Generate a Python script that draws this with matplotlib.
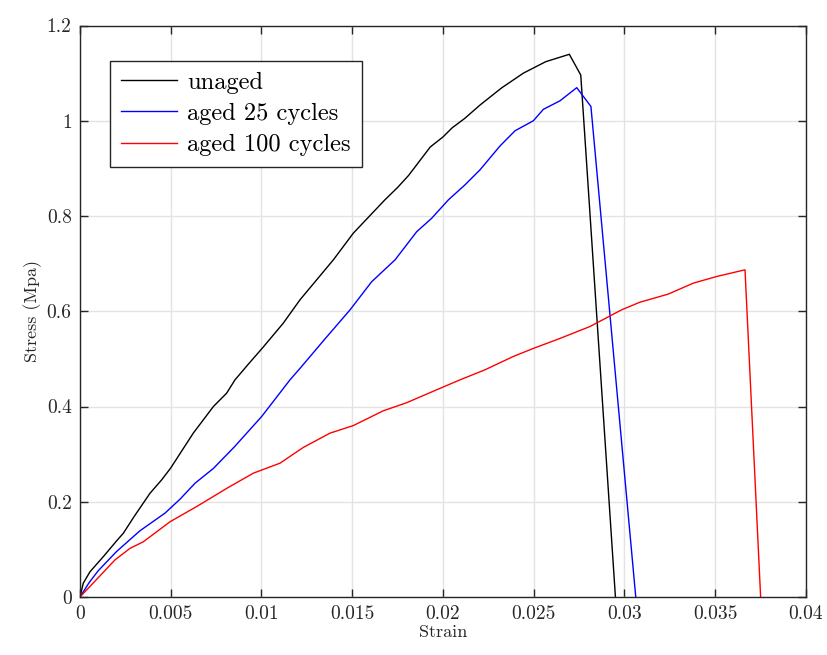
import matplotlib
matplotlib.use("Agg")
import matplotlib.pyplot as plt

plt.rcParams['font.family'] = ['cmr10', 'DejaVu Serif']
plt.rcParams['mathtext.fontset'] = 'cm'
plt.rcParams['axes.formatter.use_mathtext'] = True

# unaged
strain_unaged = [0, 0.00018, 0.00055, 0.00129, 0.00202, 0.00239, 0.0030, 0.00386, 0.0045, 0.0050,
                 0.00624, 0.00735, 0.00808, 0.00854, 0.0093, 0.0101, 0.0112, 0.01212, 0.01396, 0.01506,
                 0.0168, 0.0175, 0.0181, 0.0187, 0.0193, 0.0200, 0.0205, 0.0212, 0.02204, 0.02323,
                 0.02443, 0.02566, 0.02696, 0.02759, 0.0295]
stress_unaged = [0, 0.029, 0.053, 0.085, 0.118, 0.134, 0.170, 0.218, 0.246, 0.271,
                 0.344, 0.400, 0.428, 0.456, 0.49, 0.525, 0.575, 0.624, 0.708, 0.764,
                 0.834, 0.860, 0.885, 0.915, 0.945, 0.966, 0.985, 1.005, 1.033, 1.069,
                 1.100, 1.124, 1.1395, 1.096, 0]

# aged 25 cycles
strain_25 = [0, 0.0005, 0.0010, 0.0020, 0.0033, 0.00468, 0.0055, 0.00634, 0.00735, 0.0085,
             0.01001, 0.01157, 0.01212, 0.01350, 0.01488, 0.01607, 0.01736, 0.01855, 0.01937, 0.0203,
             0.0212, 0.02204, 0.02314, 0.02397, 0.02498, 0.02553, 0.02645, 0.02737, 0.02815, 0.03062]
stress_25 = [0, 0.030, 0.055, 0.095, 0.139, 0.176, 0.205, 0.239, 0.270, 0.315,
             0.379, 0.456, 0.480, 0.542, 0.603, 0.662, 0.708, 0.767, 0.795, 0.834,
             0.865, 0.897, 0.947, 0.979, 1.000, 1.024, 1.042, 1.0695, 1.030, 0]

# aged 100 cycles
strain_100 = [0, 0.00193, 0.00275, 0.00349, 0.00496, 0.00643, 0.00808, 0.00955, 0.01102, 0.0123,
              0.01377, 0.01506, 0.01671, 0.0180, 0.01983, 0.02094, 0.02231, 0.02387, 0.02498, 0.02645,
              0.0281, 0.02984, 0.03085, 0.03241, 0.03379, 0.03508, 0.03664, 0.0375]
stress_100 = [0, 0.078, 0.102, 0.116, 0.158, 0.190, 0.228, 0.260, 0.281, 0.314,
              0.344, 0.360, 0.391, 0.408, 0.438, 0.456, 0.477, 0.505, 0.522, 0.543,
              0.568, 0.603, 0.619, 0.636, 0.659, 0.673, 0.687, 0]

xticks = [0, 0.005, 0.01, 0.015, 0.02, 0.025, 0.03, 0.035, 0.04]
xticklabels = ['0', '0.005', '0.01', '0.015', '0.02', '0.025', '0.03', '0.035', '0.04']
yticks = [0, 0.2, 0.4, 0.6, 0.8, 1.0, 1.2]
yticklabels = ['0', '0.2', '0.4', '0.6', '0.8', '1', '1.2']

fig = plt.figure(figsize=(8.28, 6.55), dpi=100)
ax = fig.add_axes([80/828, 1-597/655, 726/828, 571.5/655])

ax.plot(strain_unaged, stress_unaged, color='black', lw=1.0, label='unaged')
ax.plot(strain_25, stress_25, color='#0000ff', lw=1.0, label='aged 25 cycles')
ax.plot(strain_100, stress_100, color='#ff0000', lw=1.0, label='aged 100 cycles')

ax.set_xlim(0, 0.04)
ax.set_ylim(0, 1.2)
ax.set_xticks(xticks)
ax.set_xticklabels(xticklabels)
ax.set_yticks(yticks)
ax.set_yticklabels(yticklabels)
ax.grid(True, color='#e3e3e3', lw=1.0)
ax.set_axisbelow(True)
for s in ax.spines.values():
    s.set_color('#262626')
    s.set_linewidth(1.0)
ax.tick_params(direction='in', length=6, width=1.0, colors='#262626', labelsize=14,
               top=True, right=True, pad=6)
for lab in ax.get_xticklabels() + ax.get_yticklabels():
    lab.set_color('#262626')

ax.set_xlabel('Strain', fontsize=13, color='#262626', labelpad=1)
ax.set_ylabel('Stress (Mpa)', fontsize=13, color='#262626', labelpad=3)

leg = ax.legend(loc='upper left', bbox_to_anchor=(30/726, 1-35/571.5), fontsize=17.6,
                frameon=True, fancybox=False, edgecolor='#262626', framealpha=1,
                handlelength=2.3, handletextpad=0.4, borderpad=0.45, labelspacing=0.38,
                borderaxespad=0)
leg.get_frame().set_linewidth(1.0)

fig.savefig('out.png', dpi=100)
